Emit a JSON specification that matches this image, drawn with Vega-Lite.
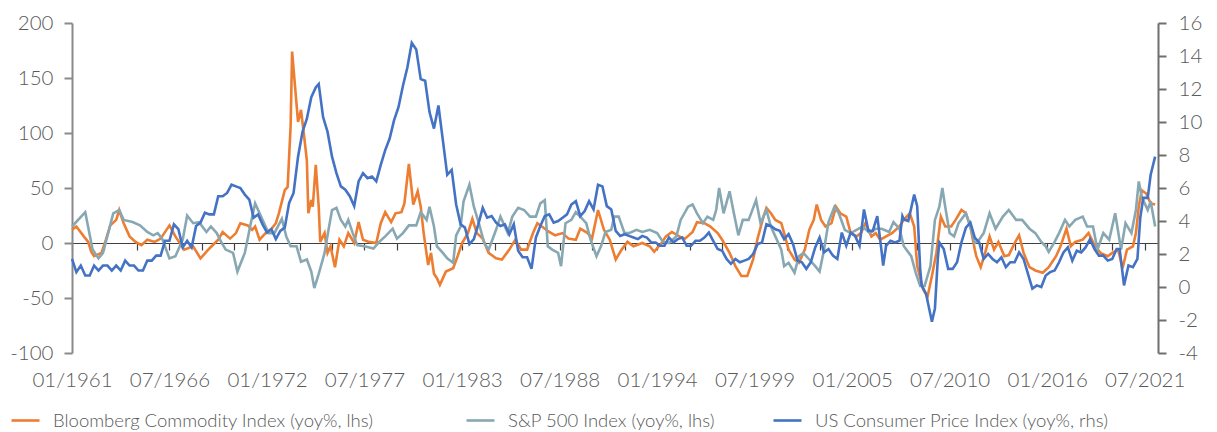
{
"$schema":"https://vega.github.io/schema/vega-lite/v6.json",
"width":1086,"height":330,
"autosize":{"type":"none"},
"padding":{"left":72,"top":23,"right":59,"bottom":79},
"background":"white",
"config":{"view":{"stroke":null},"font":"Lato","axis":{"labelFont":"Lato","labelColor":"#595959","labelFontSize":20.5,"labelFontWeight":300,"grid":false,"title":null},"legend":{"labelFont":"Lato","labelFontSize":18.5,"labelFontWeight":300,"labelColor":"#595959","labelLimit":0}},
"datasets":{
"bcom":[
{"d":"1961-01","v":12},{"d":"1961-04","v":15},{"d":"1961-09","v":6},{"d":"1961-12","v":1},{"d":"1962-02","v":-8},{"d":"1962-04","v":-12},{"d":"1962-09","v":-9},{"d":"1962-12","v":3},{"d":"1963-03","v":16},{"d":"1963-07","v":21},{"d":"1963-09","v":30},{"d":"1963-12","v":18},{"d":"1964-04","v":6},{"d":"1964-08","v":1},{"d":"1964-12","v":-2},{"d":"1965-04","v":3},{"d":"1965-09","v":1},{"d":"1966-01","v":4},{"d":"1966-07","v":16},{"d":"1966-11","v":6},{"d":"1967-05","v":-6},{"d":"1967-11","v":-3},{"d":"1968-04","v":-14},{"d":"1968-10","v":-5},{"d":"1969-04","v":3},{"d":"1969-07","v":10},{"d":"1969-12","v":4},{"d":"1970-04","v":9},{"d":"1970-07","v":18},{"d":"1970-12","v":16},{"d":"1971-03","v":12},{"d":"1971-05","v":15},{"d":"1971-08","v":3},{"d":"1971-12","v":9},{"d":"1972-04","v":13},{"d":"1972-07","v":18},{"d":"1972-09","v":27},{"d":"1973-01","v":48},{"d":"1973-03","v":51},{"d":"1973-05","v":106},{"d":"1973-06","v":174},{"d":"1973-08","v":142},{"d":"1973-10","v":110},{"d":"1973-12","v":121},{"d":"1974-02","v":98},{"d":"1974-04","v":75},{"d":"1974-05","v":27},{"d":"1974-07","v":39},{"d":"1974-08","v":33},{"d":"1974-10","v":71},{"d":"1974-12","v":33},{"d":"1975-01","v":1},{"d":"1975-04","v":9},{"d":"1975-06","v":-9},{"d":"1975-08","v":-3},{"d":"1975-11","v":-22},{"d":"1976-02","v":3},{"d":"1976-05","v":-3},{"d":"1976-08","v":9},{"d":"1976-12","v":0},{"d":"1977-03","v":19},{"d":"1977-06","v":3},{"d":"1977-10","v":1},{"d":"1978-03","v":0},{"d":"1978-06","v":18},{"d":"1978-09","v":28},{"d":"1979-01","v":19},{"d":"1979-04","v":27},{"d":"1979-08","v":28},{"d":"1979-10","v":36},{"d":"1980-01","v":72},{"d":"1980-04","v":35},{"d":"1980-07","v":47},{"d":"1980-09","v":33},{"d":"1980-11","v":9},{"d":"1981-02","v":-20},{"d":"1981-04","v":-9},{"d":"1981-06","v":-28},{"d":"1981-08","v":-32},{"d":"1981-10","v":-38},{"d":"1982-02","v":-26},{"d":"1982-07","v":-23},{"d":"1982-10","v":-12},{"d":"1983-01","v":0},{"d":"1983-05","v":9},{"d":"1983-08","v":22},{"d":"1983-11","v":9},{"d":"1984-03","v":4},{"d":"1984-07","v":-9},{"d":"1984-12","v":-14},{"d":"1985-04","v":-15},{"d":"1985-09","v":-6},{"d":"1986-01","v":3},{"d":"1986-05","v":-6},{"d":"1986-09","v":-6},{"d":"1987-01","v":9},{"d":"1987-04","v":18},{"d":"1987-07","v":15},{"d":"1987-12","v":10},{"d":"1988-04","v":7},{"d":"1988-09","v":9},{"d":"1989-01","v":4},{"d":"1989-06","v":3},{"d":"1989-09","v":13},{"d":"1990-02","v":9},{"d":"1990-05","v":4},{"d":"1990-09","v":30},{"d":"1991-01","v":12},{"d":"1991-05","v":3},{"d":"1991-07","v":-6},{"d":"1991-09","v":-15},{"d":"1992-01","v":-6},{"d":"1992-05","v":1},{"d":"1992-09","v":-3},{"d":"1993-03","v":0},{"d":"1993-08","v":-3},{"d":"1993-11","v":-8},{"d":"1994-04","v":0},{"d":"1994-07","v":6},{"d":"1994-11","v":10},{"d":"1995-04","v":6},{"d":"1995-08","v":4},{"d":"1996-01","v":10},{"d":"1996-04","v":19},{"d":"1996-09","v":18},{"d":"1997-01","v":15},{"d":"1997-06","v":9},{"d":"1997-09","v":3},{"d":"1998-02","v":-9},{"d":"1998-06","v":-21},{"d":"1998-10","v":-30},{"d":"1999-02","v":-30},{"d":"1999-06","v":-15},{"d":"1999-09","v":4},{"d":"2000-01","v":24},{"d":"2000-03","v":32},{"d":"2000-06","v":27},{"d":"2000-09","v":21},{"d":"2001-01","v":18},{"d":"2001-03","v":9},{"d":"2001-06","v":-6},{"d":"2001-10","v":-15},{"d":"2002-01","v":-18},{"d":"2002-05","v":-6},{"d":"2002-08","v":12},{"d":"2002-11","v":21},{"d":"2003-01","v":35},{"d":"2003-04","v":21},{"d":"2003-07","v":15},{"d":"2003-11","v":18},{"d":"2004-02","v":33},{"d":"2004-05","v":27},{"d":"2004-09","v":24},{"d":"2004-12","v":9},{"d":"2005-04","v":6},{"d":"2005-07","v":9},{"d":"2005-10","v":18},{"d":"2006-02","v":6},{"d":"2006-05","v":9},{"d":"2006-08","v":3},{"d":"2006-12","v":6},{"d":"2007-04","v":9},{"d":"2007-09","v":15},{"d":"2007-12","v":21},{"d":"2008-04","v":27},{"d":"2008-07","v":15},{"d":"2008-09","v":-21},{"d":"2009-01","v":-42},{"d":"2009-04","v":-49},{"d":"2009-07","v":-30},{"d":"2009-10","v":-9},{"d":"2010-01","v":24},{"d":"2010-04","v":15},{"d":"2010-08","v":15},{"d":"2010-11","v":21},{"d":"2011-03","v":30},{"d":"2011-06","v":27},{"d":"2011-09","v":15},{"d":"2011-12","v":-6},{"d":"2012-01","v":-12},{"d":"2012-04","v":-22},{"d":"2012-07","v":-9},{"d":"2012-10","v":6},{"d":"2013-01","v":-6},{"d":"2013-04","v":1},{"d":"2013-08","v":-12},{"d":"2013-11","v":-11},{"d":"2014-03","v":0},{"d":"2014-06","v":7},{"d":"2014-09","v":-9},{"d":"2015-01","v":-22},{"d":"2015-05","v":-25},{"d":"2015-10","v":-27},{"d":"2016-02","v":-22},{"d":"2016-07","v":-12},{"d":"2016-10","v":-3},{"d":"2017-02","v":13},{"d":"2017-05","v":-3},{"d":"2017-08","v":1},{"d":"2018-01","v":3},{"d":"2018-05","v":9},{"d":"2018-09","v":-2},{"d":"2019-01","v":-9},{"d":"2019-06","v":-12},{"d":"2019-09","v":-9},{"d":"2020-01","v":-6},{"d":"2020-04","v":-23},{"d":"2020-07","v":-6},{"d":"2020-11","v":-3},{"d":"2021-01","v":9},{"d":"2021-03","v":33},{"d":"2021-05","v":48},{"d":"2021-08","v":45},{"d":"2021-11","v":36},{"d":"2022-02","v":35}
],
"spx":[
{"d":"1961-01","v":15},{"d":"1961-10","v":28},{"d":"1962-03","v":-6},{"d":"1962-07","v":-14},{"d":"1962-10","v":-9},{"d":"1963-05","v":27},{"d":"1963-09","v":30},{"d":"1963-12","v":21},{"d":"1964-06","v":19},{"d":"1964-11","v":16},{"d":"1965-04","v":10},{"d":"1965-08","v":7},{"d":"1965-11","v":9},{"d":"1966-02","v":4},{"d":"1966-07","v":-14},{"d":"1966-11","v":-12},{"d":"1967-04","v":3},{"d":"1967-07","v":25},{"d":"1967-11","v":18},{"d":"1968-03","v":19},{"d":"1968-08","v":10},{"d":"1968-11","v":15},{"d":"1969-03","v":9},{"d":"1969-06","v":1},{"d":"1969-09","v":-6},{"d":"1970-02","v":-9},{"d":"1970-05","v":-26},{"d":"1970-10","v":-9},{"d":"1971-02","v":18},{"d":"1971-04","v":30},{"d":"1971-05","v":36},{"d":"1971-10","v":21},{"d":"1972-02","v":9},{"d":"1972-06","v":9},{"d":"1972-11","v":22},{"d":"1973-02","v":6},{"d":"1973-05","v":-3},{"d":"1973-09","v":-3},{"d":"1973-12","v":-17},{"d":"1974-04","v":-15},{"d":"1974-07","v":-26},{"d":"1974-09","v":-41},{"d":"1974-12","v":-28},{"d":"1975-04","v":-9},{"d":"1975-06","v":7},{"d":"1975-09","v":30},{"d":"1975-12","v":32},{"d":"1976-03","v":21},{"d":"1976-06","v":15},{"d":"1976-08","v":21},{"d":"1976-11","v":9},{"d":"1977-02","v":-2},{"d":"1977-07","v":-3},{"d":"1978-01","v":-5},{"d":"1978-05","v":1},{"d":"1978-09","v":6},{"d":"1979-02","v":13},{"d":"1979-05","v":4},{"d":"1979-09","v":9},{"d":"1980-01","v":16},{"d":"1980-06","v":16},{"d":"1980-09","v":28},{"d":"1981-01","v":21},{"d":"1981-03","v":33},{"d":"1981-06","v":15},{"d":"1981-08","v":-3},{"d":"1981-12","v":-9},{"d":"1982-03","v":-14},{"d":"1982-07","v":-18},{"d":"1982-09","v":7},{"d":"1982-12","v":15},{"d":"1983-02","v":38},{"d":"1983-06","v":53},{"d":"1983-09","v":33},{"d":"1984-01","v":15},{"d":"1984-04","v":0},{"d":"1984-07","v":-6},{"d":"1984-12","v":12},{"d":"1985-03","v":24},{"d":"1985-08","v":9},{"d":"1985-11","v":24},{"d":"1986-03","v":32},{"d":"1986-07","v":30},{"d":"1986-11","v":24},{"d":"1987-03","v":24},{"d":"1987-06","v":36},{"d":"1987-09","v":39},{"d":"1987-11","v":-3},{"d":"1988-02","v":-6},{"d":"1988-06","v":-9},{"d":"1988-08","v":-21},{"d":"1988-11","v":18},{"d":"1989-03","v":21},{"d":"1989-06","v":28},{"d":"1989-09","v":24},{"d":"1990-01","v":18},{"d":"1990-04","v":3},{"d":"1990-08","v":-12},{"d":"1990-11","v":-3},{"d":"1991-02","v":10},{"d":"1991-06","v":12},{"d":"1991-08","v":24},{"d":"1991-11","v":24},{"d":"1992-03","v":9},{"d":"1992-06","v":9},{"d":"1992-11","v":12},{"d":"1993-03","v":10},{"d":"1993-08","v":12},{"d":"1994-01","v":9},{"d":"1994-05","v":1},{"d":"1994-09","v":0},{"d":"1995-02","v":6},{"d":"1995-05","v":21},{"d":"1995-10","v":33},{"d":"1996-01","v":35},{"d":"1996-04","v":27},{"d":"1996-08","v":18},{"d":"1996-11","v":24},{"d":"1997-03","v":21},{"d":"1997-05","v":30},{"d":"1997-07","v":50},{"d":"1997-10","v":27},{"d":"1998-02","v":47},{"d":"1998-05","v":27},{"d":"1998-08","v":7},{"d":"1998-11","v":21},{"d":"1999-03","v":21},{"d":"1999-08","v":39},{"d":"1999-11","v":18},{"d":"2000-03","v":30},{"d":"2000-06","v":15},{"d":"2000-09","v":6},{"d":"2001-01","v":-6},{"d":"2001-03","v":-21},{"d":"2001-06","v":-18},{"d":"2001-10","v":-27},{"d":"2002-01","v":-12},{"d":"2002-04","v":-9},{"d":"2002-08","v":-15},{"d":"2002-12","v":-21},{"d":"2003-03","v":-26},{"d":"2003-06","v":-6},{"d":"2003-09","v":19},{"d":"2004-01","v":33},{"d":"2004-04","v":27},{"d":"2004-08","v":12},{"d":"2004-12","v":9},{"d":"2005-04","v":12},{"d":"2005-08","v":15},{"d":"2006-01","v":9},{"d":"2006-05","v":13},{"d":"2006-09","v":13},{"d":"2007-02","v":10},{"d":"2007-05","v":19},{"d":"2007-09","v":13},{"d":"2007-12","v":-3},{"d":"2008-05","v":-12},{"d":"2008-08","v":-27},{"d":"2008-11","v":-39},{"d":"2009-02","v":-39},{"d":"2009-04","v":-30},{"d":"2009-06","v":-21},{"d":"2009-09","v":21},{"d":"2009-12","v":33},{"d":"2010-02","v":50},{"d":"2010-04","v":33},{"d":"2010-07","v":9},{"d":"2010-10","v":6},{"d":"2011-01","v":18},{"d":"2011-06","v":27},{"d":"2011-09","v":15},{"d":"2011-12","v":0},{"d":"2012-03","v":3},{"d":"2012-06","v":9},{"d":"2012-10","v":27},{"d":"2013-02","v":13},{"d":"2013-07","v":24},{"d":"2013-11","v":30},{"d":"2014-04","v":21},{"d":"2014-08","v":21},{"d":"2015-01","v":13},{"d":"2015-05","v":9},{"d":"2015-09","v":1},{"d":"2015-12","v":-3},{"d":"2016-02","v":-8},{"d":"2016-06","v":1},{"d":"2016-09","v":9},{"d":"2017-01","v":21},{"d":"2017-04","v":15},{"d":"2017-08","v":21},{"d":"2018-01","v":24},{"d":"2018-04","v":15},{"d":"2018-08","v":15},{"d":"2018-11","v":-6},{"d":"2019-03","v":9},{"d":"2019-07","v":3},{"d":"2019-11","v":27},{"d":"2020-03","v":-6},{"d":"2020-06","v":18},{"d":"2020-10","v":9},{"d":"2021-01","v":30},{"d":"2021-03","v":56},{"d":"2021-05","v":42},{"d":"2021-09","v":30},{"d":"2021-11","v":38},{"d":"2022-02","v":15}
],
"cpi":[
{"d":"1961-01","v":1.7},{"d":"1961-04","v":0.9},{"d":"1961-07","v":1.3},{"d":"1961-10","v":0.7},{"d":"1962-01","v":0.7},{"d":"1962-04","v":1.3},{"d":"1962-07","v":1.0},{"d":"1962-10","v":1.3},{"d":"1963-01","v":1.3},{"d":"1963-04","v":1.0},{"d":"1963-07","v":1.3},{"d":"1963-10","v":1.0},{"d":"1964-01","v":1.6},{"d":"1964-04","v":1.3},{"d":"1964-07","v":1.3},{"d":"1964-10","v":1.0},{"d":"1965-01","v":1.0},{"d":"1965-04","v":1.6},{"d":"1965-07","v":1.6},{"d":"1965-10","v":1.9},{"d":"1966-01","v":1.9},{"d":"1966-04","v":2.8},{"d":"1966-07","v":2.8},{"d":"1966-10","v":3.8},{"d":"1967-01","v":3.5},{"d":"1967-04","v":2.4},{"d":"1967-07","v":2.8},{"d":"1967-10","v":2.4},{"d":"1968-01","v":3.7},{"d":"1968-04","v":3.9},{"d":"1968-07","v":4.5},{"d":"1968-10","v":4.4},{"d":"1969-01","v":4.4},{"d":"1969-04","v":5.5},{"d":"1969-07","v":5.5},{"d":"1969-10","v":5.7},{"d":"1970-01","v":6.2},{"d":"1970-04","v":6.1},{"d":"1970-07","v":6.0},{"d":"1970-10","v":5.6},{"d":"1971-01","v":5.3},{"d":"1971-04","v":4.2},{"d":"1971-07","v":4.4},{"d":"1971-10","v":3.8},{"d":"1972-01","v":3.3},{"d":"1972-04","v":3.5},{"d":"1972-07","v":2.9},{"d":"1972-10","v":3.4},{"d":"1973-01","v":3.6},{"d":"1973-04","v":5.1},{"d":"1973-07","v":5.7},{"d":"1973-10","v":7.9},{"d":"1974-01","v":9.4},{"d":"1974-04","v":10.2},{"d":"1974-07","v":11.5},{"d":"1974-10","v":12.1},{"d":"1974-12","v":12.3},{"d":"1975-03","v":10.3},{"d":"1975-06","v":9.4},{"d":"1975-09","v":7.9},{"d":"1975-12","v":6.9},{"d":"1976-03","v":6.1},{"d":"1976-06","v":5.9},{"d":"1976-09","v":5.5},{"d":"1976-12","v":4.9},{"d":"1977-03","v":6.4},{"d":"1977-06","v":6.9},{"d":"1977-09","v":6.6},{"d":"1977-12","v":6.7},{"d":"1978-03","v":6.4},{"d":"1978-06","v":7.4},{"d":"1978-09","v":8.3},{"d":"1978-12","v":9.0},{"d":"1979-03","v":10.1},{"d":"1979-06","v":10.9},{"d":"1979-09","v":12.2},{"d":"1979-12","v":13.3},{"d":"1980-03","v":14.8},{"d":"1980-06","v":14.4},{"d":"1980-09","v":12.6},{"d":"1980-12","v":12.5},{"d":"1981-03","v":10.6},{"d":"1981-06","v":9.6},{"d":"1981-09","v":11.0},{"d":"1981-12","v":8.9},{"d":"1982-03","v":6.8},{"d":"1982-06","v":7.1},{"d":"1982-09","v":5.0},{"d":"1982-12","v":3.8},{"d":"1983-03","v":3.6},{"d":"1983-06","v":2.6},{"d":"1983-09","v":2.9},{"d":"1983-12","v":3.8},{"d":"1984-03","v":4.8},{"d":"1984-06","v":4.2},{"d":"1984-09","v":4.3},{"d":"1984-12","v":3.9},{"d":"1985-03","v":3.7},{"d":"1985-06","v":3.8},{"d":"1985-09","v":3.2},{"d":"1985-12","v":3.8},{"d":"1986-03","v":2.2},{"d":"1986-06","v":1.8},{"d":"1986-09","v":1.8},{"d":"1986-12","v":1.1},{"d":"1987-03","v":3.0},{"d":"1987-06","v":3.7},{"d":"1987-09","v":4.3},{"d":"1987-12","v":4.4},{"d":"1988-03","v":3.9},{"d":"1988-06","v":4.0},{"d":"1988-09","v":4.2},{"d":"1988-12","v":4.4},{"d":"1989-03","v":5.0},{"d":"1989-06","v":5.2},{"d":"1989-09","v":4.3},{"d":"1989-12","v":4.6},{"d":"1990-03","v":5.2},{"d":"1990-06","v":4.7},{"d":"1990-09","v":6.2},{"d":"1990-12","v":6.1},{"d":"1991-03","v":4.9},{"d":"1991-06","v":4.7},{"d":"1991-09","v":3.4},{"d":"1991-12","v":3.1},{"d":"1992-03","v":3.2},{"d":"1992-06","v":3.1},{"d":"1992-09","v":3.0},{"d":"1992-12","v":2.9},{"d":"1993-03","v":3.1},{"d":"1993-06","v":3.0},{"d":"1993-09","v":2.7},{"d":"1993-12","v":2.7},{"d":"1994-03","v":2.5},{"d":"1994-06","v":2.5},{"d":"1994-09","v":3.0},{"d":"1994-12","v":2.7},{"d":"1995-03","v":2.9},{"d":"1995-06","v":3.0},{"d":"1995-09","v":2.5},{"d":"1995-12","v":2.5},{"d":"1996-03","v":2.8},{"d":"1996-06","v":2.8},{"d":"1996-09","v":3.0},{"d":"1996-12","v":3.3},{"d":"1997-03","v":2.8},{"d":"1997-06","v":2.3},{"d":"1997-09","v":2.2},{"d":"1997-12","v":1.7},{"d":"1998-03","v":1.4},{"d":"1998-06","v":1.7},{"d":"1998-09","v":1.5},{"d":"1998-12","v":1.6},{"d":"1999-03","v":1.7},{"d":"1999-06","v":2.0},{"d":"1999-09","v":2.6},{"d":"1999-12","v":2.7},{"d":"2000-03","v":3.8},{"d":"2000-06","v":3.7},{"d":"2000-09","v":3.5},{"d":"2000-12","v":3.4},{"d":"2001-03","v":2.9},{"d":"2001-06","v":3.2},{"d":"2001-09","v":2.6},{"d":"2001-12","v":1.6},{"d":"2002-03","v":1.5},{"d":"2002-06","v":1.1},{"d":"2002-09","v":1.5},{"d":"2002-12","v":2.4},{"d":"2003-03","v":3.0},{"d":"2003-06","v":2.1},{"d":"2003-09","v":2.3},{"d":"2003-12","v":1.9},{"d":"2004-03","v":1.7},{"d":"2004-06","v":3.3},{"d":"2004-09","v":2.5},{"d":"2004-12","v":3.3},{"d":"2005-03","v":3.1},{"d":"2005-06","v":2.5},{"d":"2005-09","v":4.7},{"d":"2005-12","v":3.4},{"d":"2006-03","v":3.4},{"d":"2006-06","v":4.3},{"d":"2006-09","v":2.1},{"d":"2006-10","v":1.3},{"d":"2006-12","v":2.5},{"d":"2007-03","v":2.8},{"d":"2007-06","v":2.7},{"d":"2007-09","v":2.8},{"d":"2007-11","v":4.3},{"d":"2007-12","v":4.1},{"d":"2008-03","v":4.0},{"d":"2008-07","v":5.6},{"d":"2008-09","v":4.9},{"d":"2008-11","v":1.1},{"d":"2008-12","v":0.1},{"d":"2009-03","v":-0.4},{"d":"2009-07","v":-2.1},{"d":"2009-09","v":-1.3},{"d":"2009-11","v":1.8},{"d":"2009-12","v":2.7},{"d":"2010-03","v":2.3},{"d":"2010-06","v":1.1},{"d":"2010-09","v":1.1},{"d":"2010-12","v":1.5},{"d":"2011-03","v":2.7},{"d":"2011-06","v":3.6},{"d":"2011-09","v":3.9},{"d":"2011-12","v":3.0},{"d":"2012-03","v":2.7},{"d":"2012-06","v":1.7},{"d":"2012-09","v":2.0},{"d":"2012-12","v":1.7},{"d":"2013-03","v":1.5},{"d":"2013-06","v":1.8},{"d":"2013-09","v":1.2},{"d":"2013-12","v":1.5},{"d":"2014-03","v":1.5},{"d":"2014-06","v":2.1},{"d":"2014-09","v":1.7},{"d":"2014-12","v":0.8},{"d":"2015-03","v":-0.1},{"d":"2015-06","v":0.1},{"d":"2015-09","v":0.0},{"d":"2015-12","v":0.7},{"d":"2016-03","v":0.9},{"d":"2016-06","v":1.0},{"d":"2016-09","v":1.5},{"d":"2016-12","v":2.1},{"d":"2017-03","v":2.4},{"d":"2017-06","v":1.6},{"d":"2017-09","v":2.2},{"d":"2017-12","v":2.1},{"d":"2018-03","v":2.4},{"d":"2018-06","v":2.9},{"d":"2018-09","v":2.3},{"d":"2018-12","v":1.9},{"d":"2019-03","v":1.9},{"d":"2019-06","v":1.6},{"d":"2019-09","v":1.7},{"d":"2019-12","v":2.3},{"d":"2020-02","v":2.3},{"d":"2020-05","v":0.1},{"d":"2020-08","v":1.3},{"d":"2020-11","v":1.2},{"d":"2021-02","v":1.7},{"d":"2021-04","v":4.2},{"d":"2021-06","v":5.4},{"d":"2021-09","v":5.4},{"d":"2021-11","v":6.8},{"d":"2022-02","v":7.9}
]
},
"layer":[
{"data":{"name":"bcom"},"mark":{"type":"line","strokeWidth":2.6},
 "encoding":{
  "x":{"field":"d","type":"temporal","scale":{"type":"utc","domain":[{"year":1961,"month":1,"date":1,"utc":true},{"year":2022,"month":4,"date":1,"utc":true}]},
   "axis":{"orient":"bottom","values":[{"year":1961,"month":1,"date":1,"utc":true},{"year":1966,"month":7,"date":1,"utc":true},{"year":1972,"month":1,"date":1,"utc":true},{"year":1977,"month":7,"date":1,"utc":true},{"year":1983,"month":1,"date":1,"utc":true},{"year":1988,"month":7,"date":1,"utc":true},{"year":1994,"month":1,"date":1,"utc":true},{"year":1999,"month":7,"date":1,"utc":true},{"year":2005,"month":1,"date":1,"utc":true},{"year":2010,"month":7,"date":1,"utc":true},{"year":2016,"month":1,"date":1,"utc":true},{"year":2021,"month":7,"date":1,"utc":true}],
   "labelExpr":"utcFormat(datum.value, '%m/%Y')","domain":false,"ticks":false,"labelPadding":17,"labelFlush":false,"labelOverlap":false}},
  "y":{"field":"v","type":"quantitative","scale":{"domain":[-100,200],"nice":false,"zero":false},
   "axis":{"orient":"left","values":[-100,-50,0,50,100,150,200],"labelExpr":"'' + datum.value","domainColor":"#8a8a8a","domainWidth":2,"tickColor":"#8a8a8a","tickWidth":2,"tickSize":8,"labelPadding":11}},
  "color":{"datum":"Bloomberg Commodity Index (yoy%, lhs)","scale":{"range":["#ED7D31"]},
   "legend":{"orient":"none","legendX":-62,"legendY":382,"title":null,"symbolType":"stroke","symbolSize":784,"symbolStrokeWidth":2.6,"labelOffset":12}}
 }},
{"data":{"name":"spx"},"mark":{"type":"line","strokeWidth":2.6},
 "encoding":{
  "x":{"field":"d","type":"temporal","scale":{"type":"utc","domain":[{"year":1961,"month":1,"date":1,"utc":true},{"year":2022,"month":4,"date":1,"utc":true}]},
   "axis":{"orient":"bottom","offset":-110,"labels":false,"domain":true,"domainColor":"#404040","domainWidth":1.2,"ticks":true,"tickColor":"#404040","tickWidth":1.2,"tickSize":7,
   "values":[{"year":1961,"month":1,"date":1,"utc":true},{"year":1962,"month":11,"date":1,"utc":true},{"year":1964,"month":9,"date":1,"utc":true},{"year":1966,"month":7,"date":1,"utc":true},{"year":1968,"month":5,"date":1,"utc":true},{"year":1970,"month":3,"date":1,"utc":true},{"year":1972,"month":1,"date":1,"utc":true},{"year":1973,"month":11,"date":1,"utc":true},{"year":1975,"month":9,"date":1,"utc":true},{"year":1977,"month":7,"date":1,"utc":true},{"year":1979,"month":5,"date":1,"utc":true},{"year":1981,"month":3,"date":1,"utc":true},{"year":1983,"month":1,"date":1,"utc":true},{"year":1984,"month":11,"date":1,"utc":true},{"year":1986,"month":9,"date":1,"utc":true},{"year":1988,"month":7,"date":1,"utc":true},{"year":1990,"month":5,"date":1,"utc":true},{"year":1992,"month":3,"date":1,"utc":true},{"year":1994,"month":1,"date":1,"utc":true},{"year":1995,"month":11,"date":1,"utc":true},{"year":1997,"month":9,"date":1,"utc":true},{"year":1999,"month":7,"date":1,"utc":true},{"year":2001,"month":5,"date":1,"utc":true},{"year":2003,"month":3,"date":1,"utc":true},{"year":2005,"month":1,"date":1,"utc":true},{"year":2006,"month":11,"date":1,"utc":true},{"year":2008,"month":9,"date":1,"utc":true},{"year":2010,"month":7,"date":1,"utc":true},{"year":2012,"month":5,"date":1,"utc":true},{"year":2014,"month":3,"date":1,"utc":true},{"year":2016,"month":1,"date":1,"utc":true},{"year":2017,"month":11,"date":1,"utc":true},{"year":2019,"month":9,"date":1,"utc":true},{"year":2021,"month":7,"date":1,"utc":true}]}},
  "y":{"field":"v","type":"quantitative","scale":{"domain":[-100,200],"nice":false,"zero":false},"axis":null},
  "color":{"datum":"S&P 500 Index (yoy%, lhs)","scale":{"range":["#87A8B2"]},
   "legend":{"orient":"none","legendX":393,"legendY":382,"title":null,"symbolType":"stroke","symbolSize":784,"symbolStrokeWidth":2.6,"labelOffset":12}}
 }},
{"data":{"name":"cpi"},"mark":{"type":"line","strokeWidth":2.6},
 "encoding":{
  "x":{"field":"d","type":"temporal","scale":{"type":"utc","domain":[{"year":1961,"month":1,"date":1,"utc":true},{"year":2022,"month":4,"date":1,"utc":true}]},"axis":null},
  "y":{"field":"v","type":"quantitative","scale":{"domain":[-4,16],"nice":false,"zero":false},
   "axis":{"orient":"right","values":[-4,-2,0,2,4,6,8,10,12,14,16],"labelExpr":"'' + datum.value","domainColor":"#6f6f6f","domainWidth":2,"tickColor":"#6f6f6f","tickWidth":2,"tickSize":8,"labelPadding":12}},
  "color":{"datum":"US Consumer Price Index (yoy%, rhs)","scale":{"range":["#4472C4"]},
   "legend":{"orient":"none","legendX":700,"legendY":382,"title":null,"symbolType":"stroke","symbolSize":784,"symbolStrokeWidth":2.6,"labelOffset":12}}
 }}
],
"resolve":{"scale":{"y":"independent","color":"independent"},"axis":{"x":"independent"}}
}
